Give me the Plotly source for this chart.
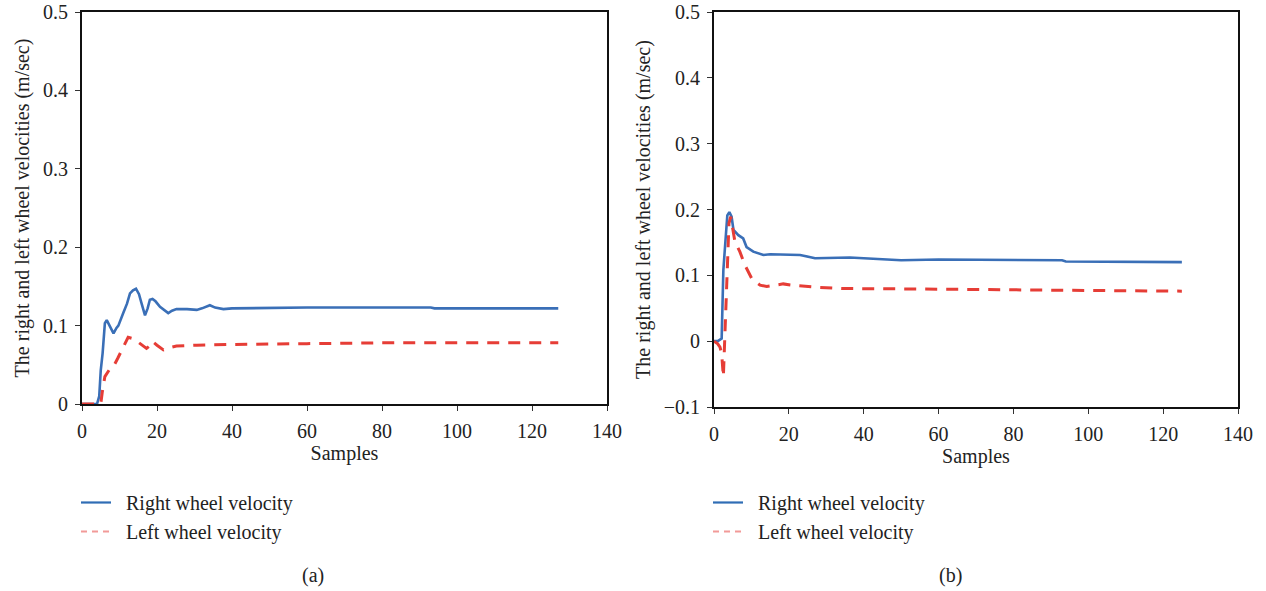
import plotly.graph_objects as go

# Panel (a): wheel velocities per sample
a_right_x = [0, 4, 4.6, 5.0, 5.5, 6.1, 6.6, 7.5, 8.4, 9.2, 9.7, 11.0, 12.0, 12.8, 13.6, 14.4,
             15.2, 15.9, 16.8, 17.5, 18.1, 18.8, 19.6, 20.8, 22.0, 23.0, 24.0, 25.2, 28, 30.6,
             32, 34.1, 35.5, 37.7, 40, 60, 80, 93, 94, 110, 127]
a_right_y = [0, 0, 0.01, 0.043, 0.065, 0.103, 0.107, 0.098, 0.09, 0.097, 0.1, 0.116, 0.128,
             0.141, 0.145, 0.147, 0.14, 0.128, 0.113, 0.122, 0.133, 0.134, 0.131, 0.124, 0.119,
             0.116, 0.119, 0.121, 0.121, 0.12, 0.122, 0.126, 0.123, 0.121, 0.122, 0.123, 0.123,
             0.123, 0.122, 0.122, 0.122]
a_left_x = [0, 5.0, 5.4, 6.1, 7.2, 8.4, 9.5, 10.6, 11.5, 12.3, 13.8, 15.9, 17.2, 18.0, 18.7,
            20.0, 21.7, 23.5, 25.2, 30.6, 40, 60, 80, 100, 127]
a_left_y = [0, 0, 0.015, 0.035, 0.043, 0.048, 0.058, 0.069, 0.079, 0.085, 0.083, 0.076, 0.071,
            0.074, 0.08, 0.075, 0.069, 0.072, 0.074, 0.075, 0.076, 0.077, 0.078, 0.078, 0.078]

# Panel (b): wheel velocities per sample
b_right_x = [0, 1.0, 2.05, 2.3, 2.5, 2.94, 3.3, 3.56, 4.1, 4.7, 5.2, 6.5, 7.8, 8.7, 10.5, 13.2,
             15, 17.4, 20, 23, 27, 36.3, 40, 50, 60, 80, 93, 94, 110, 125]
b_right_y = [0, 0, 0.004, 0.06, 0.108, 0.143, 0.17, 0.191, 0.196, 0.189, 0.169, 0.161, 0.156,
             0.143, 0.136, 0.131, 0.132, 0.132, 0.131, 0.131, 0.126, 0.127, 0.126, 0.123, 0.124,
             0.123, 0.123, 0.121, 0.121, 0.12]
b_left_x = [0, 1.0, 1.6, 2.05, 2.5, 2.7, 3.2, 3.56, 4.0, 4.46, 4.9, 5.6, 6.9, 8.3, 10.1, 12.3,
            14.1, 18.5, 21, 24.8, 27, 34.1, 40, 60, 80, 93, 100, 125]
b_left_y = [0, -0.004, -0.009, -0.019, -0.054, -0.024, 0.057, 0.133, 0.179, 0.189, 0.174, 0.151,
            0.136, 0.115, 0.095, 0.085, 0.083, 0.087, 0.085, 0.083, 0.082, 0.080, 0.080, 0.079,
            0.078, 0.078, 0.077, 0.076]

x_ticks = [0, 20, 40, 60, 80, 100, 120, 140]
a_y_ticks = [0, 0.1, 0.2, 0.3, 0.4, 0.5]
b_y_ticks = [-0.1, 0, 0.1, 0.2, 0.3, 0.4, 0.5]

BLUE = "#3a6fb7"
RED = "#e63d36"
FONT = "Liberation Serif"
FS = 20
W, H = 1266, 591

fig = go.Figure()

fig.add_trace(go.Scatter(x=a_right_x, y=a_right_y, mode="lines", xaxis="x", yaxis="y",
                         line=dict(color=BLUE, width=2.6), showlegend=False))
fig.add_trace(go.Scatter(x=a_left_x, y=a_left_y, mode="lines", xaxis="x", yaxis="y",
                         line=dict(color=RED, width=3, dash="12px,9px"), showlegend=False))
fig.add_trace(go.Scatter(x=b_right_x, y=b_right_y, mode="lines", xaxis="x2", yaxis="y2",
                         line=dict(color=BLUE, width=2.6), showlegend=False))
fig.add_trace(go.Scatter(x=b_left_x, y=b_left_y, mode="lines", xaxis="x2", yaxis="y2",
                         line=dict(color=RED, width=3, dash="12px,9px"), showlegend=False))

# legend entries for each panel
PAD = "\u00a0\u00a0"
for lg in ("legend", "legend2"):
    fig.add_trace(go.Scatter(x=[None], y=[None], mode="lines", name=PAD + "Right wheel velocity",
                             legend=lg, legendgroup=lg + "r",
                             line=dict(color="#2f6db5", width=2.2)))
    fig.add_trace(go.Scatter(x=[None], y=[None], mode="lines", name=PAD + "Left wheel velocity",
                             legend=lg, legendgroup=lg + "l",
                             line=dict(color="#f29a98", width=1.8, dash="6px,5px")))

def px_x(p):
    return p / W

def px_y(p):
    return 1 - p / H

axis_common = dict(showgrid=False, zeroline=False, showline=True, linecolor="#111",
                   linewidth=2, mirror=True, ticks="outside", ticklen=5, tickwidth=1.2,
                   tickcolor="#333", automargin=False, ticklabelstandoff=3,
                   tickfont=dict(family=FONT, size=FS, color="#222"))

yt = "The right and left wheel velocities (m/sec)"
fig.update_layout(
    width=W, height=H,
    margin=dict(l=0, r=0, t=0, b=0, autoexpand=False),
    paper_bgcolor="white", plot_bgcolor="white",
    font=dict(family=FONT, size=FS, color="#222"),
    xaxis=dict(domain=[px_x(82), px_x(607)], range=[0, 140], tickvals=x_ticks,
               title=dict(text="Samples", font=dict(family=FONT, size=FS), standoff=4),
               anchor="y", **axis_common),
    yaxis=dict(domain=[px_y(404), px_y(12)], range=[0, 0.5], tickvals=a_y_ticks,
               ticktext=["0", "0.1", "0.2", "0.3", "0.4", "0.5"],
               title=dict(text=yt, font=dict(family=FONT, size=FS), standoff=8),
               anchor="x", **axis_common),
    xaxis2=dict(domain=[px_x(714), px_x(1238)], range=[0, 140], tickvals=x_ticks,
                title=dict(text="Samples", font=dict(family=FONT, size=FS), standoff=4),
                anchor="y2", **axis_common),
    yaxis2=dict(domain=[px_y(407), px_y(12)], range=[-0.1, 0.5], tickvals=b_y_ticks,
                ticktext=["\u22120.1", "0", "0.1", "0.2", "0.3", "0.4", "0.5"],
                title=dict(text=yt, font=dict(family=FONT, size=FS), standoff=8),
                anchor="x2", **axis_common),
    legend=dict(x=px_x(76), y=px_y(483), xanchor="left", yanchor="top",
                font=dict(family=FONT, size=FS, color="#222"), tracegroupgap=0,
                bgcolor="rgba(0,0,0,0)", itemwidth=30),
    legend2=dict(x=px_x(708), y=px_y(483), xanchor="left", yanchor="top",
                 font=dict(family=FONT, size=FS, color="#222"), tracegroupgap=0,
                 bgcolor="rgba(0,0,0,0)", itemwidth=30),
    annotations=[
        dict(text="(a)", x=px_x(313), y=px_y(575), xref="paper", yref="paper",
             xanchor="center", yanchor="middle", showarrow=False,
             font=dict(family=FONT, size=FS, color="#222")),
        dict(text="(b)", x=px_x(950), y=px_y(575), xref="paper", yref="paper",
             xanchor="center", yanchor="middle", showarrow=False,
             font=dict(family=FONT, size=FS, color="#222")),
    ],
)

fig.write_html("out.html")
